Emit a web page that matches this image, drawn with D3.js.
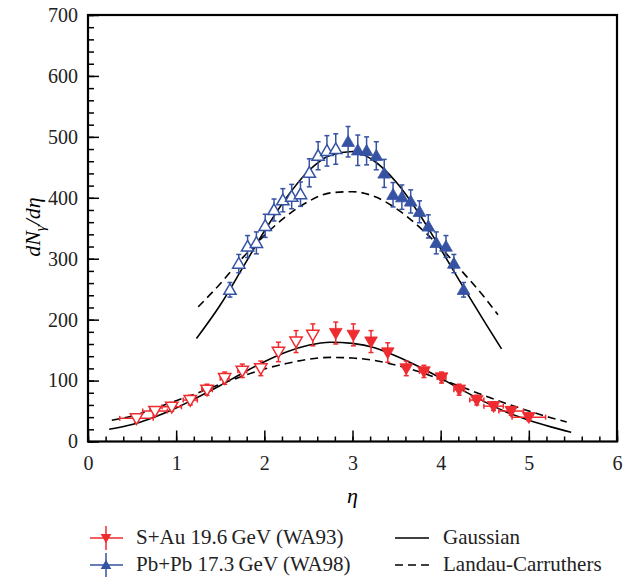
<!DOCTYPE html>
<html lang="en">
<head>
    <meta charset="UTF-8">
    <title>dN/deta photons</title>
    <script src="https://d3js.org/d3.v7.min.js"></script>
    <style>
        body {
            margin: 0;
            background: #fff;
            overflow: hidden;
        }

        .tick line {
            stroke: #000;
            stroke-width: 1.5;
        }

        .domain {
            display: none;
        }
    </style>
</head>
<body>
    <div id="chart"></div>

    <script>
        // Pb+Pb 17.3 GeV (WA98), open symbols
        const pbOpenEta = [1.61, 1.71, 1.81, 1.91, 2.01, 2.11, 2.21, 2.31, 2.41, 2.51, 2.61, 2.71, 2.81];
        const pbOpenVal = [249, 292, 320, 326, 354, 380, 396, 402, 406, 441, 469, 477, 480];
        const pbOpenErr = [12, 15, 18, 18, 19, 18, 19, 20, 20, 23, 23, 25, 25];
        // Pb+Pb filled symbols
        const pbFillEta = [2.95, 3.06, 3.16, 3.27, 3.36, 3.46, 3.56, 3.66, 3.76, 3.86, 3.95, 4.06, 4.15, 4.26];
        const pbFillVal = [492, 478, 477, 469, 440, 405, 401, 394, 377, 353, 326, 320, 292, 249];
        const pbFillErr = [25, 25, 23, 23, 23, 20, 20, 19, 18, 19, 18, 18, 15, 12];

        // S+Au 19.6 GeV (WA93), open symbols
        const saOpenEta = [0.55, 0.76, 0.95, 1.16, 1.35, 1.55, 1.75, 1.96, 2.16, 2.36, 2.55];
        const saOpenVal = [38, 50, 57, 68, 85, 104, 116, 120, 147, 164, 175];
        const saOpenErr = [6, 7, 7, 8, 9, 10, 11, 12, 16, 18, 18];
        const saOpenXErr = [0.19, 0.14, 0.11, 0.08, 0.06, 0.05, 0.05, 0, 0, 0, 0];
        // S+Au filled symbols
        const saFillEta = [2.81, 3.01, 3.21, 3.40, 3.61, 3.81, 4.01, 4.21, 4.41, 4.60, 4.80, 5.00];
        const saFillVal = [178, 175, 164, 146, 120, 115, 105, 85, 68, 58, 50, 40];
        const saFillErr = [18, 18, 18, 16, 12, 10, 9, 9, 8, 7, 7, 6];
        const saFillXErr = [0, 0, 0, 0, 0, 0.05, 0.05, 0.06, 0.08, 0.11, 0.14, 0.19];

        // fitted curves
        const pbGaussEta = [1.23, 1.5, 1.75, 2.0, 2.25, 2.5, 2.75, 3.0, 3.25, 3.5, 3.75, 4.0, 4.25, 4.5, 4.69];
        const pbGaussVal = [169, 224, 284, 345, 400, 444, 470, 476, 460, 425, 375, 316, 255, 196, 152];
        const pbLandauEta = [1.25, 1.5, 1.75, 2.0, 2.25, 2.5, 2.75, 3.0, 3.25, 3.5, 3.75, 4.0, 4.25, 4.5, 4.65];
        const pbLandauVal = [221, 259, 301, 338, 370, 394, 408, 410, 402, 382, 353, 318, 278, 236, 208];
        const saGaussEta = [0.24, 0.5, 0.75, 1.0, 1.25, 1.5, 1.75, 2.0, 2.25, 2.5, 2.75, 3.0, 3.25, 3.5, 3.75, 4.0, 4.25, 4.5, 4.75, 5.0, 5.25, 5.48];
        const saGaussVal = [20, 28, 40, 55, 73, 92, 112, 131, 147, 158, 163, 161, 154, 140, 123, 104, 84, 65, 48, 35, 24, 15];
        const saLandauEta = [0.27, 0.5, 0.75, 1.0, 1.25, 1.5, 1.75, 2.0, 2.25, 2.5, 2.75, 3.0, 3.25, 3.5, 3.75, 4.0, 4.25, 4.5, 4.75, 5.0, 5.25, 5.43];
        const saLandauVal = [35, 42, 54, 67, 80, 94, 107, 119, 128, 135, 138, 137, 133, 125, 115, 102, 89, 75, 62, 50, 39, 32];

        const xTicks = [0, 1, 2, 3, 4, 5, 6];
        const yTicks = [0, 100, 200, 300, 400, 500, 600, 700];

        const red = "#ee2b2f";
        const blue = "#3552a3";
        const serif = "Liberation Serif, DejaVu Serif, serif";

        const W = 642, H = 579;
        const svg = d3.select("#chart").append("svg")
            .attr("width", W)
            .attr("height", H);

        const x = d3.scaleLinear().domain([0, 6]).range([88, 617]);
        const y = d3.scaleLinear().domain([0, 700]).range([441.5, 15]);

        // axes (ticks inward)
        svg.append("g")
            .attr("transform", `translate(0,${y(0)})`)
            .call(d3.axisBottom(x).tickValues(d3.range(0, 6.001, 0.2)).tickSize(-5).tickFormat(""));
        const xAxis = svg.append("g")
            .attr("transform", `translate(0,${y(0)})`)
            .call(d3.axisBottom(x).tickValues(xTicks).tickSize(-11).tickPadding(14).tickFormat(d3.format("d")));
        svg.append("g")
            .attr("transform", `translate(${x(0)},0)`)
            .call(d3.axisLeft(y).tickValues(d3.range(0, 701, 20)).tickSize(-6).tickFormat(""));
        const yAxis = svg.append("g")
            .attr("transform", `translate(${x(0)},0)`)
            .call(d3.axisLeft(y).tickValues(yTicks).tickSize(-11).tickPadding(10).tickFormat(d3.format("d")));

        [xAxis, yAxis].forEach(a => {
            a.attr("font-family", serif).attr("font-size", 20);
            a.selectAll("text")
                .style("font-family", serif)
                .style("font-size", "20px")
                .attr("fill", "#222");
        });

        svg.append("rect")
            .attr("x", x(0)).attr("y", y(700))
            .attr("width", x(6) - x(0)).attr("height", y(0) - y(700))
            .attr("fill", "none").attr("stroke", "#000").attr("stroke-width", 2.2);

        // axis titles
        svg.append("text")
            .attr("x", x(3)).attr("y", 503)
            .attr("text-anchor", "middle")
            .style("font-family", serif)
            .style("font-size", "22px").style("font-style", "italic")
            .text("η");

        const yl = svg.append("text")
            .attr("transform", `translate(40,${y(352)}) rotate(-90)`)
            .attr("text-anchor", "middle")
            .style("font-family", serif)
            .style("font-size", "22px").style("font-style", "italic");
        yl.append("tspan").text("dN");
        yl.append("tspan").attr("dy", 5).style("font-size", "15px").text("γ");
        yl.append("tspan").attr("dy", -5).text("/dη");

        // curves
        const line = d3.line().curve(d3.curveMonotoneX).x(d => x(d[0])).y(d => y(d[1]));
        function curve(etas, vals, dashed) {
            svg.append("path")
                .datum(d3.zip(etas, vals))
                .attr("d", line)
                .attr("fill", "none")
                .attr("stroke", "#000")
                .attr("stroke-width", 1.6)
                .attr("stroke-dasharray", dashed ? "8,5" : null);
        }
        curve(pbGaussEta, pbGaussVal, false);
        curve(pbLandauEta, pbLandauVal, true);
        curve(saGaussEta, saGaussVal, false);
        curve(saLandauEta, saLandauVal, true);

        // data points
        const tri = d3.symbol().type(d3.symbolTriangle);
        function points(etas, vals, errs, xerrs, color, filled, down) {
            const g = svg.append("g");
            const pts = d3.zip(etas, vals, errs, xerrs || etas.map(() => 0));
            const cap = 2.5;
            pts.forEach(([e, v, er, xe]) => {
                const cx = x(e), cy = y(v);
                g.append("line")
                    .attr("x1", cx).attr("x2", cx)
                    .attr("y1", y(v - er)).attr("y2", y(v + er))
                    .attr("stroke", color).attr("stroke-width", 1.5);
                [v - er, v + er].forEach(t => {
                    g.append("line")
                        .attr("x1", cx - cap).attr("x2", cx + cap)
                        .attr("y1", y(t)).attr("y2", y(t))
                        .attr("stroke", color).attr("stroke-width", 1.5);
                });
                if (xe > 0) {
                    g.append("line")
                        .attr("x1", x(e - xe)).attr("x2", x(e + xe))
                        .attr("y1", cy).attr("y2", cy)
                        .attr("stroke", color).attr("stroke-width", 1.5);
                    [e - xe, e + xe].forEach(t => {
                        g.append("line")
                            .attr("x1", x(t)).attr("x2", x(t))
                            .attr("y1", cy - cap).attr("y2", cy + cap)
                            .attr("stroke", color).attr("stroke-width", 1.5);
                    });
                }
                g.append("path")
                    .attr("d", tri.size(filled ? 70 : 66)())
                    .attr("transform", `translate(${cx},${cy + (down ? -1 : 1)}) rotate(${down ? 180 : 0})`)
                    .attr("fill", filled ? color : "#fff")
                    .attr("stroke", color)
                    .attr("stroke-width", filled ? 0.8 : 1.5);
            });
        }
        points(pbOpenEta, pbOpenVal, pbOpenErr, null, blue, false, false);
        points(pbFillEta, pbFillVal, pbFillErr, null, blue, true, false);
        points(saOpenEta, saOpenVal, saOpenErr, saOpenXErr, red, false, true);
        points(saFillEta, saFillVal, saFillErr, saFillXErr, red, true, true);

        // legend
        const legendSeries = [
            { label: "S+Au 19.6\u2009GeV (WA93)", color: red, down: true },
            { label: "Pb+Pb 17.3\u2009GeV (WA98)", color: blue, down: false }
        ];
        const legendCurves = [
            { label: "Gaussian", dashed: false },
            { label: "Landau-Carruthers", dashed: true }
        ];
        const rowY = [538, 565];

        legendSeries.forEach((s, i) => {
            const cy = rowY[i];
            const g = svg.append("g");
            g.append("line").attr("x1", 90).attr("x2", 123).attr("y1", cy).attr("y2", cy)
                .attr("stroke", s.color).attr("stroke-width", 1.5);
            g.append("line").attr("x1", 106).attr("x2", 106).attr("y1", cy - 12).attr("y2", cy + 12)
                .attr("stroke", s.color).attr("stroke-width", 1.5);
            g.append("path")
                .attr("d", tri.size(50)())
                .attr("transform", `translate(106,${cy + (s.down ? -1 : 1)}) rotate(${s.down ? 180 : 0})`)
                .attr("fill", s.color);
            g.append("text").attr("x", 136).attr("y", cy + 6)
                .style("font-family", serif)
                .style("font-size", "21px").attr("fill", "#222")
                .text(s.label);
        });

        legendCurves.forEach((c, i) => {
            const cy = rowY[i];
            svg.append("line").attr("x1", 395).attr("x2", 429).attr("y1", cy).attr("y2", cy)
                .attr("stroke", "#000").attr("stroke-width", 1.5)
                .attr("stroke-dasharray", c.dashed ? "8,5" : null);
            svg.append("text").attr("x", 443).attr("y", cy + 6)
                .style("font-family", serif)
                .style("font-size", "21px").attr("fill", "#222")
                .text(c.label);
        });
    </script>
</body>
</html>
